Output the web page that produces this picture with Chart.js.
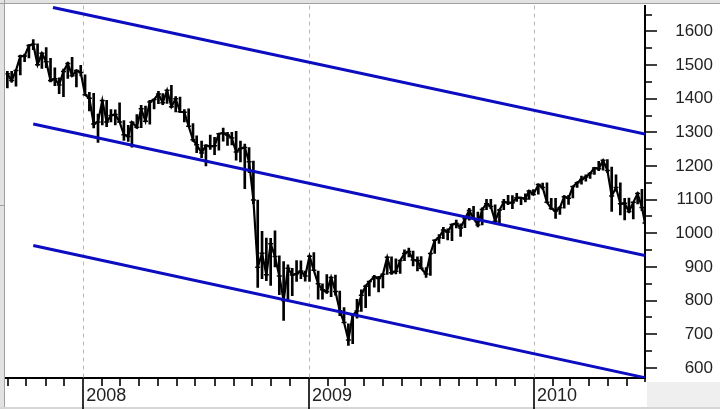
<!DOCTYPE html>
<html lang="en">
<head>
<meta charset="UTF-8" />
<title>S&amp;P 500 channel 2007-2010</title>
<script src="https://cdn.jsdelivr.net/npm/chart.js"></script>
<style>
  html, body { margin: 0; padding: 0; background: #fff; }
</style>
</head>
<body>
<canvas id="myChart" width="720" height="409"></canvas>
<script>
// weekly bars, week ending dates
const weeks = [
  "2007-08-31","2007-09-07","2007-09-14","2007-09-21","2007-09-28","2007-10-05","2007-10-12","2007-10-19","2007-10-26",
  "2007-11-02","2007-11-09","2007-11-16","2007-11-23","2007-11-30","2007-12-07","2007-12-14","2007-12-21","2007-12-28",
  "2008-01-04","2008-01-11","2008-01-18","2008-01-25","2008-02-01","2008-02-08","2008-02-15","2008-02-22","2008-02-29",
  "2008-03-07","2008-03-14","2008-03-20","2008-03-28","2008-04-04","2008-04-11","2008-04-18","2008-04-25",
  "2008-05-02","2008-05-09","2008-05-16","2008-05-23","2008-05-30","2008-06-06","2008-06-13","2008-06-20","2008-06-27",
  "2008-07-03","2008-07-11","2008-07-18","2008-07-25","2008-08-01","2008-08-08","2008-08-15","2008-08-22","2008-08-29",
  "2008-09-05","2008-09-12","2008-09-19","2008-09-26","2008-10-03","2008-10-10","2008-10-17","2008-10-24","2008-10-31",
  "2008-11-07","2008-11-14","2008-11-21","2008-11-28","2008-12-05","2008-12-12","2008-12-19","2008-12-26",
  "2009-01-02","2009-01-09","2009-01-16","2009-01-23","2009-01-30","2009-02-06","2009-02-13","2009-02-20","2009-02-27",
  "2009-03-06","2009-03-13","2009-03-20","2009-03-27","2009-04-03","2009-04-09","2009-04-17","2009-04-24",
  "2009-05-01","2009-05-08","2009-05-15","2009-05-22","2009-05-29","2009-06-05","2009-06-12","2009-06-19","2009-06-26",
  "2009-07-02","2009-07-10","2009-07-17","2009-07-24","2009-07-31","2009-08-07","2009-08-14","2009-08-21","2009-08-28",
  "2009-09-04","2009-09-11","2009-09-18","2009-09-25","2009-10-02","2009-10-09","2009-10-16","2009-10-23","2009-10-30",
  "2009-11-06","2009-11-13","2009-11-20","2009-11-27","2009-12-04","2009-12-11","2009-12-18","2009-12-24","2009-12-31",
  "2010-01-08","2010-01-15","2010-01-22","2010-01-29","2010-02-05","2010-02-12","2010-02-19","2010-02-26",
  "2010-03-05","2010-03-12","2010-03-19","2010-03-26","2010-04-02","2010-04-09","2010-04-16","2010-04-23","2010-04-30",
  "2010-05-07","2010-05-14","2010-05-21","2010-05-28","2010-06-04","2010-06-11","2010-06-18","2010-06-25","2010-06-30"
];
const highs = [
  1481,1481,1485,1530,1533,1561,1576,1563,1536, 1552,1520,1492,1462,1488,1508,1523,1485,1499,
  1471,1419,1416,1354,1396,1395,1368,1367,1388, 1335,1321,1331,1353,1380,1378,1395,1399,
  1422,1415,1425,1440,1406,1405,1368,1370,1326, 1290,1274,1263,1292,1285,1297,1313,1300,1300,
  1303,1274,1265,1255,1215,1099,1006,986,985, 1007,933,916,906,896,919,918,888,
  934,943,888,850,877,870,876,828,779, 731,758,804,832,846,857,875,872,
  880,930,930,924,920,951,956,947,930, 931,898,941,980,996,1018,1013,1027,1039,
  1028,1049,1074,1080,1063,1076,1101,1101,1085, 1072,1101,1113,1112,1119,1107,1117,1127,1130,
  1146,1149,1150,1104,1104,1080,1112,1113, 1139,1153,1170,1174,1181,1194,1214,1217,1219,
  1197,1174,1150,1104,1105,1092,1121,1131,1078
];
const lows = [
  1432,1449,1437,1471,1510,1521,1546,1500,1490, 1492,1450,1439,1415,1406,1460,1467,1435,1468,
  1411,1364,1313,1270,1322,1317,1331,1322,1330, 1276,1273,1256,1312,1314,1332,1324,1370,
  1385,1382,1386,1373,1361,1360,1331,1317,1273, 1240,1225,1200,1249,1234,1247,1274,1261,1263,
  1217,1212,1133,1180,1088,839,865,859,845, 900,818,741,799,815,857,865,858,
  857,889,804,804,821,812,816,755,734, 667,672,748,768,779,814,840,826,
  838,878,878,879,881,919,930,903,888, 896,869,875,940,970,984,980,978,1016,
  991,1017,1039,1041,1019,1025,1070,1073,1033, 1029,1070,1085,1073,1095,1085,1093,1101,1114,
  1116,1131,1090,1071,1044,1056,1075,1086, 1105,1136,1146,1155,1163,1175,1186,1188,1181,
  1065,1125,1055,1040,1061,1043,1087,1067,1028
];
const closes = [
  1474,1454,1484,1526,1527,1558,1562,1501,1535, 1510,1454,1459,1441,1481,1505,1468,1484,1478,
  1412,1401,1325,1331,1395,1331,1350,1353,1331, 1293,1288,1330,1315,1370,1333,1390,1398,
  1414,1388,1425,1376,1400,1361,1360,1318,1278, 1263,1239,1261,1258,1260,1296,1298,1292,1283,
  1242,1252,1255,1213,1099,899,941,877,969, 931,873,800,896,876,880,888,873,
  932,890,850,832,826,869,827,770,735, 683,757,769,816,843,857,870,866,
  878,929,883,887,919,940,946,921,919, 896,879,940,979,987,1010,1004,1026,1029,
  1016,1043,1068,1044,1025,1071,1088,1080,1036, 1069,1093,1091,1091,1106,1106,1102,1126,1115,
  1145,1136,1092,1074,1066,1076,1109,1104, 1139,1150,1160,1167,1178,1194,1192,1217,1187,
  1111,1136,1088,1089,1065,1092,1118,1077,1031
];

// trend channel: start dates, common end date, values at both ends
const channelStarts = ["2007-11-13", "2007-10-12", "2007-10-12"];
const channelEnd = "2010-06-30";
const upperLine = [1671, 1295];
const middleLine = [1325, 934];
const lowerLine = [964, 571];

const yTicks = [600,650,700,750,800,850,900,950,1000,1050,1100,1150,1200,1250,1300,1350,1400,1450,1500,1550,1600,1650];
const yearLabels = ["2008", "2009", "2010"];

const toDay = s => Date.parse(s) / 864e5;
const xMin = toDay("2007-08-28");
const xMax = toDay("2010-06-30");

const monthTicks = [];
for (let i = 0; ; i++) {
  const d = Date.UTC(2007, 8 + i, 1) / 864e5;
  if (d > xMax) break;
  monthTicks.push(d);
}
const isJan = v => new Date(v * 864e5).getUTCMonth() === 0;

const blue = "#0c0cc0";
const line = (start, vals) => [{ x: toDay(start), y: vals[0] }, { x: toDay(channelEnd), y: vals[1] }];
const noPad = s => { s.paddingTop = 0; s.paddingBottom = 0; s.paddingLeft = 0; s.paddingRight = 0; };

const decor = {
  id: "decor",
  beforeDraw(chart) {
    const { ctx } = chart;
    ctx.save();
    ctx.fillStyle = "#fff";
    ctx.fillRect(0, 0, 720, 409);
    ctx.fillStyle = "#e2e2e2";
    ctx.fillRect(0, 0, 720, 3);
    ctx.fillRect(0, 0, 4, 409);
    ctx.fillStyle = "#efefef";
    ctx.fillRect(647, 382, 73, 27);
    ctx.fillStyle = "#d6d6d6";
    ctx.fillRect(0, 407, 720, 2);
    ctx.strokeStyle = "#a0a0a0";
    ctx.lineWidth = 1;
    ctx.beginPath();
    ctx.moveTo(0, 3.5); ctx.lineTo(720, 3.5);
    ctx.moveTo(4.5, 0); ctx.lineTo(4.5, 407);
    ctx.moveTo(0, 205.5); ctx.lineTo(5, 205.5);
    ctx.stroke();
    ctx.restore();
  },
  beforeDatasetsDraw(chart) {
    const { ctx, chartArea, scales } = chart;
    ctx.save();
    ctx.strokeStyle = "#b8b8b8";
    ctx.lineWidth = 1;
    ctx.setLineDash([4, 4]);
    ctx.beginPath();
    monthTicks.filter(isJan).forEach(v => {
      const x = Math.round(scales.x.getPixelForValue(v)) + 0.5;
      ctx.moveTo(x, chartArea.top);
      ctx.lineTo(x, chartArea.bottom);
    });
    ctx.stroke();
    ctx.restore();
  },
  afterDraw(chart) {
    const { ctx, chartArea, scales } = chart;
    ctx.save();
    ctx.strokeStyle = "#000";
    ctx.lineWidth = 1.6;
    ctx.beginPath();
    monthTicks.forEach(v => {
      const x = Math.round(scales.x.getPixelForValue(v));
      ctx.moveTo(x, chartArea.bottom);
      ctx.lineTo(x, chartArea.bottom + (isJan(v) ? 31 : 8));
    });
    yTicks.forEach(v => {
      const y = Math.round(scales.y.getPixelForValue(v));
      ctx.moveTo(chartArea.right, y);
      ctx.lineTo(chartArea.right + (v % 100 === 0 ? 12 : 7), y);
    });
    ctx.moveTo(chartArea.right, chartArea.bottom);
    ctx.lineTo(chartArea.right, chartArea.bottom + 4);
    ctx.stroke();
    ctx.restore();
  }
};

const ctx = document.getElementById("myChart").getContext("2d");
new Chart(ctx, {
  type: "line",
  data: {
    datasets: [
      { data: line(channelStarts[0], upperLine), borderColor: blue, borderWidth: 3, pointRadius: 0 },
      { data: line(channelStarts[1], middleLine), borderColor: blue, borderWidth: 3, pointRadius: 0 },
      { data: line(channelStarts[2], lowerLine), borderColor: blue, borderWidth: 3, pointRadius: 0 },
      {
        data: weeks.map((w, i) => ({ x: toDay(w), y: closes[i] })),
        borderColor: "#000", borderWidth: 2.2, tension: 0,
        pointStyle: "line", pointRadius: 2.5, pointBorderWidth: 1.5, pointBorderColor: "#000"
      },
      {
        type: "bar",
        data: weeks.map((w, i) => ({ x: toDay(w), y: [lows[i], highs[i]] })),
        backgroundColor: "#000", barThickness: 2, grouped: false
      }
    ]
  },
  options: {
    responsive: false,
    animation: false,
    layout: { padding: { left: 5, top: 4, right: 7, bottom: 0 } },
    plugins: { legend: { display: false }, tooltip: { enabled: false } },
    scales: {
      x: {
        type: "linear", min: xMin, max: xMax, bounds: "data", offset: false,
        afterBuildTicks: s => { s.ticks = monthTicks.map(v => ({ value: v })); },
        afterFit: s => { s.height = 31; noPad(s); },
        grid: { display: false, drawTicks: true, tickLength: 7 },
        border: { color: "#000", width: 2 },
        ticks: {
          autoSkip: false, maxRotation: 0, align: "start", labelOffset: 3, padding: 0,
          color: "#222", font: { family: "'Liberation Sans', Arial", size: 18 },
          callback: v => isJan(v) ? yearLabels[new Date(v * 864e5).getUTCFullYear() - 2008] : ""
        }
      },
      y: {
        position: "right", min: 570, max: 1677,
        afterBuildTicks: s => { s.ticks = yTicks.map(v => ({ value: v })); },
        afterFit: s => { s.width = 68; noPad(s); },
        grid: { display: false, drawTicks: true, tickLength: 19 },
        border: { color: "#000", width: 2 },
        ticks: {
          crossAlign: "far", padding: 2,
          color: "#222", font: { family: "'Liberation Sans', Arial", size: 17 },
          callback: v => v % 100 === 0 ? String(v) : ""
        }
      }
    }
  },
  plugins: [decor]
});
</script>
</body>
</html>
